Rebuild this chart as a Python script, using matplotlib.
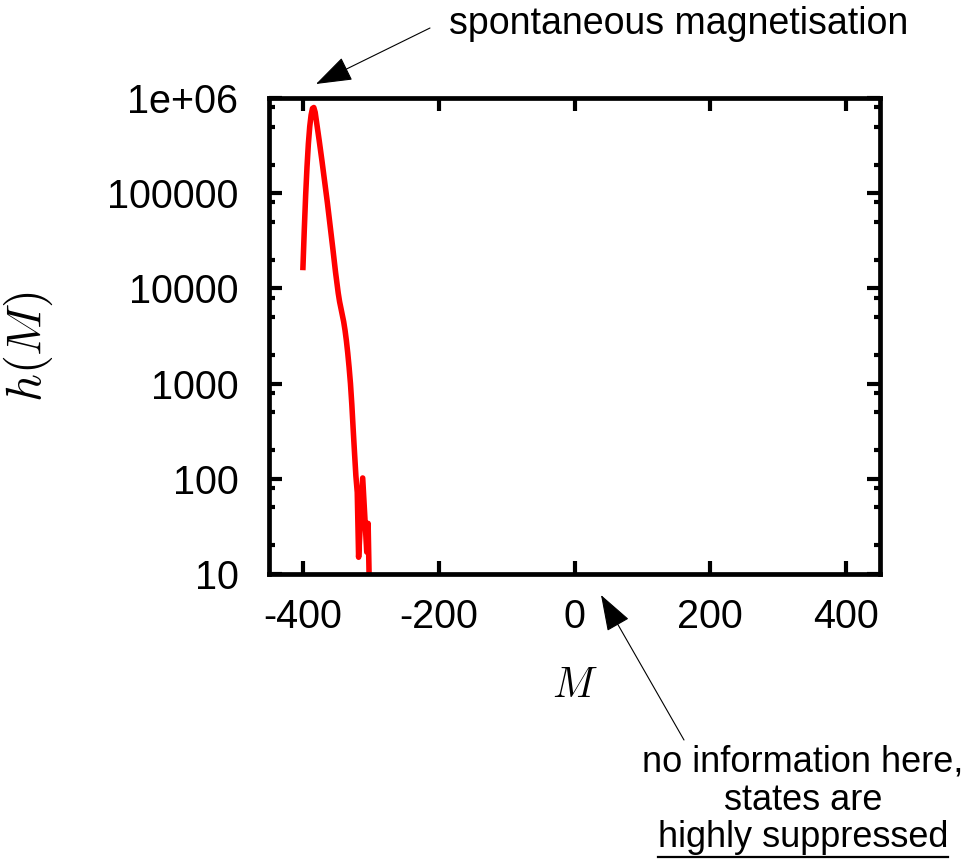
import matplotlib
matplotlib.use("Agg")
import matplotlib.pyplot as plt
from matplotlib.ticker import LogLocator, NullFormatter, NullLocator
from matplotlib.lines import Line2D

# ---- data ----
M_values = [-400, -398, -396, -394, -392, -390, -388, -386, -384, -382, -380,
            -376, -372, -368, -364, -360, -356, -352, -348, -346, -344, -342,
            -340, -338, -336, -334, -332, -330, -328, -326, -324, -322, -320,
            -318, -312, -306, -304, -302]
h_values = [16600, 41700, 95500, 190000, 331000, 501000, 661000, 776000, 794000,
            708000, 562000, 355000, 219000, 132000, 79400, 45700, 26300, 14800,
            8900, 7240, 6170, 5250, 4470, 3630, 2820, 2090, 1480, 1000, 603, 331,
            186, 107, 72, 15, 102, 17, 34, 6]

x_ticks = [-400, -200, 0, 200, 400]
x_tick_labels = ["-400", "-200", "0", "200", "400"]
y_ticks = [10, 100, 1000, 10000, 100000, 1000000]
y_tick_labels = ["10", "100", "1000", "10000", "100000", "1e+06"]

top_note = "spontaneous magnetisation"
bottom_note_lines = ["no information here,", "states are", "highly suppressed"]

# ---- figure ----
plt.rcParams["font.family"] = ["Liberation Sans", "DejaVu Sans"]
plt.rcParams["mathtext.fontset"] = "cm"

W, H = 978, 864
fig = plt.figure(figsize=(W / 100, H / 100), dpi=100)
ax = fig.add_axes([269 / W, 1 - 574 / H, (880 - 269) / W, (574 - 98) / H])

ax.plot(M_values, h_values, color="#ff0000", lw=4.0, solid_joinstyle="round")
ax.set_yscale("log")
ax.set_xlim(-450, 450)
ax.set_ylim(10, 1e6)

ax.set_xticks(x_ticks)
ax.set_xticklabels(x_tick_labels)
ax.xaxis.set_minor_locator(NullLocator())
ax.set_yticks(y_ticks)
ax.set_yticklabels(y_tick_labels)
ax.yaxis.set_minor_locator(LogLocator(base=10, subs=(2, 5, 8)))
ax.yaxis.set_minor_formatter(NullFormatter())

for s in ax.spines.values():
    s.set_linewidth(3.4)
ax.tick_params(which="major", direction="in", length=9.5, width=3.0,
               top=True, right=True, labelsize=28.5)
ax.tick_params(axis="x", which="major", pad=17)
ax.tick_params(axis="y", which="major", pad=22)
ax.tick_params(which="minor", direction="in", length=4.5, width=3.0,
               top=True, right=True)

ax.set_xlabel(r"$M$", fontsize=30, labelpad=22)
ax.set_ylabel(r"$h(M)$", fontsize=35)
ax.yaxis.set_label_coords((55 - 269) / 611, 1 - (347 - 98) / 476)

# ---- annotations ----
arrow_kw = dict(arrowstyle="-|>,head_length=2.3,head_width=0.8",
                mutation_scale=10, color="black", lw=0.8,
                shrinkA=0, shrinkB=0)
ax.annotate("", xy=(316 / W, 1 - 84 / H), xycoords="figure fraction",
            xytext=(430 / W, 1 - 28 / H), textcoords="figure fraction",
            arrowprops=arrow_kw, annotation_clip=False)
fig.text(449 / W, 1 - 34 / H, top_note, fontsize=27, ha="left",
         va="baseline")

ax.annotate("", xy=(601 / W, 1 - 595 / H), xycoords="figure fraction",
            xytext=(684 / W, 1 - 740 / H), textcoords="figure fraction",
            arrowprops=arrow_kw, annotation_clip=False)

cx = 803 / W
baselines = [771, 810, 847]
texts = []
for line, b in zip(bottom_note_lines, baselines):
    t = fig.text(cx, 1 - b / H, line, fontsize=26, ha="center", va="baseline")
    texts.append(t)

fig.canvas.draw()
r = fig.canvas.get_renderer()
bb = texts[-1].get_window_extent(renderer=r)
uy = (1 - 857 / H)
fig.add_artist(Line2D([bb.x0 / W, bb.x1 / W], [uy, uy], color="black",
                      lw=1.6, transform=fig.transFigure))

fig.savefig("out.png", dpi=100)
